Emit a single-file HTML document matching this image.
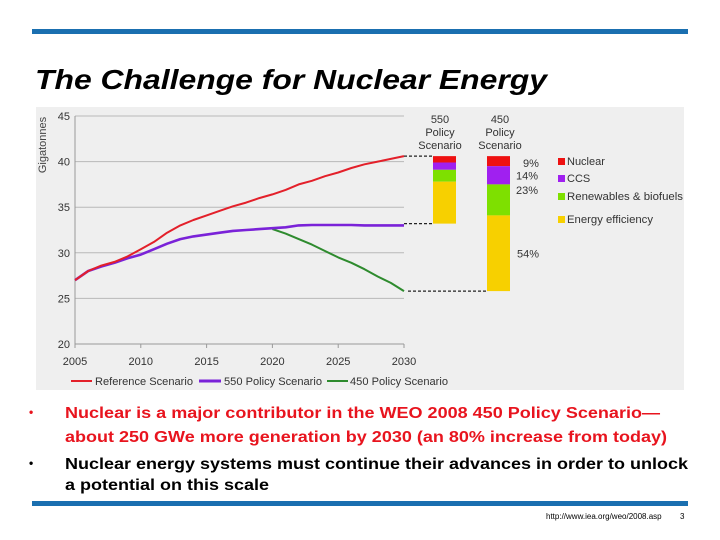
<!DOCTYPE html>
<html><head><meta charset="utf-8"><style>
html,body{margin:0;padding:0;background:#fff;}
svg{display:block;font-family:"Liberation Sans",sans-serif;}
</style></head><body>
<svg id="s" width="720" height="540" viewBox="0 0 720 540">
<rect x="32" y="29" width="656" height="5" fill="#1a6fb0"/>
<text x="35" y="89" font-size="28" font-style="italic" font-weight="bold" textLength="512" lengthAdjust="spacingAndGlyphs" fill="#000">The Challenge for Nuclear Energy</text>
<rect x="36" y="107" width="648" height="283" fill="#efefef"/>
<g id="grid"></g>
<g id="axes"></g>
<text transform="translate(46,145) rotate(-90)" font-size="11" fill="#444" text-anchor="middle">Gigatonnes</text>
<g id="lines"></g>
<g id="bars"></g>
<g font-size="11" fill="#333">
<line x1="71" y1="381" x2="92" y2="381" stroke="#e3202a" stroke-width="2"/>
<text x="95" y="385" textLength="98" lengthAdjust="spacingAndGlyphs">Reference Scenario</text>
<line x1="199" y1="381" x2="221" y2="381" stroke="#7a22d8" stroke-width="3"/>
<text x="224" y="385" textLength="98" lengthAdjust="spacingAndGlyphs">550 Policy Scenario</text>
<line x1="327" y1="381" x2="348" y2="381" stroke="#2e8b2e" stroke-width="2"/>
<text x="350" y="385" textLength="98" lengthAdjust="spacingAndGlyphs">450 Policy Scenario</text>
</g>
<g font-size="11" fill="#333" text-anchor="middle">
<text x="440" y="123">550</text><text x="440" y="136">Policy</text><text x="440" y="149">Scenario</text>
<text x="500" y="123">450</text><text x="500" y="136">Policy</text><text x="500" y="149">Scenario</text>
</g>
<g font-size="11" fill="#333">
<rect x="558" y="158" width="7" height="7" fill="#ee1111"/><text x="567" y="165">Nuclear</text>
<rect x="558" y="175" width="7" height="7" fill="#a020f0"/><text x="567" y="182">CCS</text>
<rect x="558" y="193" width="7" height="7" fill="#7ee000"/><text x="567" y="200" textLength="116" lengthAdjust="spacingAndGlyphs">Renewables &amp; biofuels</text>
<rect x="558" y="216" width="7" height="7" fill="#f7d000"/><text x="567" y="223" textLength="86" lengthAdjust="spacingAndGlyphs">Energy efficiency</text>
</g>
<g font-size="15.5" font-weight="bold">
<text x="29" y="416" font-size="12" fill="#e8141e">•</text>
<text x="65" y="418" fill="#e8141e" textLength="595" lengthAdjust="spacingAndGlyphs">Nuclear is a major contributor in the WEO 2008 450 Policy Scenario—</text>
<text x="65" y="442" fill="#e8141e" textLength="602" lengthAdjust="spacingAndGlyphs">about 250 GWe more generation by 2030 (an 80% increase from today)</text>
<text x="29" y="467" font-size="12" fill="#000">•</text>
<text x="65" y="469" fill="#000" textLength="623" lengthAdjust="spacingAndGlyphs">Nuclear energy systems must continue their advances in order to unlock</text>
<text x="65" y="490" fill="#000" textLength="204" lengthAdjust="spacingAndGlyphs">a potential on this scale</text>
</g>
<rect x="32" y="501" width="656" height="5" fill="#1a6fb0"/>
<text x="546" y="519" font-size="8" fill="#000">http://www.iea.org/weo/2008.asp</text>
<text x="680" y="519" font-size="8" fill="#000">3</text>
</svg>
<script>
const years=[2005,2006,2007,2008,2009,2010,2011,2012,2013,2014,2015,2016,2017,2018,2019,2020,2021,2022,2023,2024,2025,2026,2027,2028,2029,2030];
const refValues=[27,28,28.6,29,29.6,30.4,31.2,32.2,33,33.6,34.1,34.6,35.1,35.5,36,36.4,36.9,37.5,37.9,38.4,38.8,39.3,39.7,40,40.3,40.6];
const p550Values=[27,28,28.5,28.9,29.4,29.8,30.4,31,31.5,31.8,32,32.2,32.4,32.5,32.6,32.7,32.8,33,33.05,33.05,33.05,33.05,33,33,33,33];
const years450=[2020,2021,2022,2023,2024,2025,2026,2027,2028,2029,2030];
const p450Values=[32.6,32.1,31.5,30.9,30.2,29.5,28.9,28.2,27.4,26.7,25.8];
const yTicks=[20,25,30,35,40,45];
const xTicks=[2005,2010,2015,2020,2025,2030];
const wedgeNames=["Nuclear","CCS","Renewables & biofuels","Energy efficiency"];
const wedge550=[0.7,0.8,1.3,4.6];
const wedge450=[1.1,2.0,3.4,8.3];
const pctLabels450=["9%","14%","23%","54%"];
const wedgeColors=["#ee1111","#a020f0","#7ee000","#f7d000"];

const NS="http://www.w3.org/2000/svg";
const xs=y=>75+(y-2005)*(404-75)/25;
const ys=v=>344-(v-20)*(344-116)/25;
function mk(tag,attrs,parent){const e=document.createElementNS(NS,tag);for(const k in attrs)e.setAttribute(k,attrs[k]);document.getElementById(parent).appendChild(e);return e;}

yTicks.forEach(t=>{
  if(t>20){const g=mk('line',{x1:75,x2:404,y1:ys(t),y2:ys(t),stroke:'#b8b8b8','stroke-width':1},'grid');
  
  }
  const l=mk('text',{x:70,y:ys(t)+4,'font-size':11,fill:'#333','text-anchor':'end'},'axes');l.textContent=t;
  
  
});
mk('line',{x1:75,x2:75,y1:116,y2:344,stroke:'#999'},'axes');
mk('line',{x1:75,x2:404,y1:344,y2:344,stroke:'#999'},'axes');
xTicks.forEach(t=>{
  mk('line',{x1:xs(t),x2:xs(t),y1:344,y2:348,stroke:'#999'},'axes');
  const l=mk('text',{x:xs(t),y:365,'font-size':11,fill:'#333','text-anchor':'middle'},'axes');l.textContent=t;
  
  
});
function line(xv,yv,color,w,name){
  const d=xv.map((x,i)=>(i?'L':'M')+xs(x).toFixed(1)+','+ys(yv[i]).toFixed(1)).join('');
  const p=mk('path',{d:d,fill:'none',stroke:color,'stroke-width':w,'stroke-linejoin':'round'},'lines');
  
  
}
line(years450,p450Values,'#2e8b2e',2,'line-450-policy');
line(years,p550Values,'#7a22d8',2.6,'line-550-policy');
line(years,refValues,'#e3202a',2,'line-reference');

const ref2030=refValues[refValues.length-1];
function bar(x,vals,name){
  let cur=ref2030;
  vals.forEach((v,i)=>{
    const r=mk('rect',{x:x,y:ys(cur),width:23,height:ys(cur-v)-ys(cur),fill:wedgeColors[i]},'bars');
    
    
    cur-=v;
  });
  return cur;
}
const b550=bar(433,wedge550,'bar-550');
const b450=bar(487,wedge450,'bar-450');
const dash={stroke:'#222','stroke-width':1.3,'stroke-dasharray':'3,2'};
mk('line',Object.assign({x1:404,x2:432,y1:ys(ref2030),y2:ys(ref2030)},dash),'bars');
mk('line',Object.assign({x1:404,x2:432,y1:ys(b550),y2:ys(b550)},dash),'bars');
mk('line',Object.assign({x1:408,x2:486,y1:ys(b450),y2:ys(b450)},dash),'bars');
let labelTop=ref2030;
const pctX=[523,516,516,517];
wedge450.forEach((v,i)=>{
  let cy=ys(labelTop-v/2)+4; if(i===0)cy+=2; if(i===2)cy=ys(labelTop-v/2)-6;
  const t=mk('text',{x:pctX[i],y:cy,'font-size':11,fill:'#333'},'bars');t.textContent=pctLabels450[i];
  
  
  labelTop-=v;
});
</script>
</body></html>
